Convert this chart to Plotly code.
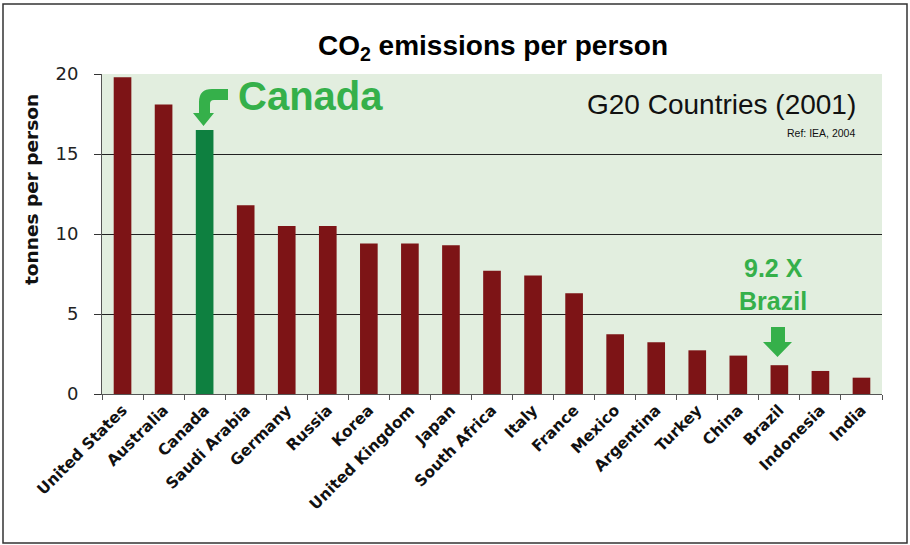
import plotly.graph_objects as go

countries = ["United States", "Australia", "Canada", "Saudi Arabia", "Germany", "Russia",
             "Korea", "United Kingdom", "Japan", "South Africa", "Italy", "France",
             "Mexico", "Argentina", "Turkey", "China", "Brazil", "Indonesia", "India"]
tonnes = [19.8, 18.1, 16.5, 11.8, 10.5, 10.5, 9.4, 9.4, 9.3, 7.7, 7.4, 6.3,
          3.73, 3.23, 2.73, 2.4, 1.8, 1.44, 1.02]
highlight = "Canada"
y_ticks = [0, 5, 10, 15, 20]

RED = "#7d1416"
DGREEN = "#0e8040"
LGREEN = "#35b04a"
BG = "#e2eedf"

# plot area in pixels
L, R, T, B = 102, 882, 74, 394
W, H = 910, 545


def px(x):
    return (x - L) / (R - L)


def py(y):
    return (B - y) / (B - T)


def path(cmds):
    out = []
    for c in cmds:
        if isinstance(c, str):
            out.append(c)
        else:
            pts = []
            for i in range(0, len(c), 2):
                pts.append(f"{px(c[i]):.5f},{py(c[i+1]):.5f}")
            out.append(" ".join(pts))
    return " ".join(out)


colors = [DGREEN if c == highlight else RED for c in countries]

fig = go.Figure(go.Bar(x=countries, y=tonnes, marker=dict(color=colors, line=dict(width=0)),
                       width=0.43))

fig.update_layout(
    width=W, height=H,
    margin=dict(l=L, r=W - R, t=T, b=H - B, pad=0),
    paper_bgcolor="white", plot_bgcolor=BG,
    showlegend=False,
    title=dict(text="CO<sub>2</sub> emissions per person",
               font=dict(family="Liberation Sans", size=28, color="black", weight="bold"),
               x=px(493), xref="paper", xanchor="center", y=1 - 45 / H, yref="container", yanchor="middle"),
)

fig.update_yaxes(range=[0, 20], tickvals=y_ticks, showgrid=True, gridcolor="#222", gridwidth=1,
                 ticks="outside", ticklen=7, tickcolor="#333", showline=True, linecolor="#555",
                 linewidth=1, zeroline=False, ticklabelstandoff=12,
                 tickfont=dict(family="DejaVu Sans", size=18, color="#222"))
fig.update_xaxes(showline=True, linecolor="#555", linewidth=1, ticks="outside", ticklen=5,
                 tickcolor="#555", tickson="boundaries", tickangle=-45,
                 tickfont=dict(family="DejaVu Sans", size=15.5, color="#111", weight="bold"))

shapes = []
# outer frame
shapes.append(dict(type="rect", xref="paper", yref="paper", x0=px(3), x1=px(907), y0=py(4), y1=py(543),
                   line=dict(color="#333", width=1.5), fillcolor="rgba(0,0,0,0)", layer="below"))
# Canada curved arrow
shapes.append(dict(type="path", xref="paper", yref="paper",
                   path=path(["M", [228, 89], "L", [212, 89], "Q", [199, 89, 199, 102], "L", [199, 113],
                              "L", [193, 113], "L", [203.5, 126], "L", [214, 113], "L", [210, 113],
                              "L", [210, 104], "Q", [210, 100, 214, 100], "L", [228, 100], "Z"]),
                   fillcolor=LGREEN, line=dict(width=0)))
# Brazil arrow
shapes.append(dict(type="path", xref="paper", yref="paper",
                   path=path(["M", [771, 327], "L", [785, 327], "L", [785, 342], "L", [792, 342],
                              "L", [777.5, 357], "L", [763, 342], "L", [771, 342], "Z"]),
                   fillcolor=LGREEN, line=dict(width=0)))
fig.update_layout(shapes=shapes)

ann = []
ann.append(dict(text="Canada", xref="paper", yref="paper", x=px(236), y=py(96), xanchor="left", yanchor="middle",
                showarrow=False, font=dict(family="Liberation Sans", size=40, color=LGREEN, weight="bold")))
ann.append(dict(text="9.2 X", xref="paper", yref="paper", x=px(773), y=py(268), xanchor="center", yanchor="middle",
                showarrow=False, font=dict(family="Liberation Sans", size=25, color=LGREEN, weight="bold")))
ann.append(dict(text="Brazil", xref="paper", yref="paper", x=px(773), y=py(301), xanchor="center", yanchor="middle",
                showarrow=False, font=dict(family="Liberation Sans", size=25, color=LGREEN, weight="bold")))
ann.append(dict(text="G20 Countries (2001)", xref="paper", yref="paper", x=px(858), y=py(104), xanchor="right",
                yanchor="middle", showarrow=False, font=dict(family="Liberation Sans", size=28, color="#111")))
ann.append(dict(text="Ref: IEA, 2004", xref="paper", yref="paper", x=px(857), y=py(133), xanchor="right",
                yanchor="middle", showarrow=False, font=dict(family="Liberation Sans", size=10.5, color="#111")))
ann.append(dict(text="tonnes per person", xref="paper", yref="paper", x=px(31), y=py(190), xanchor="center",
                yanchor="middle", textangle=-90, showarrow=False,
                font=dict(family="DejaVu Sans", size=18.5, color="#111", weight="bold")))
fig.update_layout(annotations=ann)

fig.write_html("out.html")
